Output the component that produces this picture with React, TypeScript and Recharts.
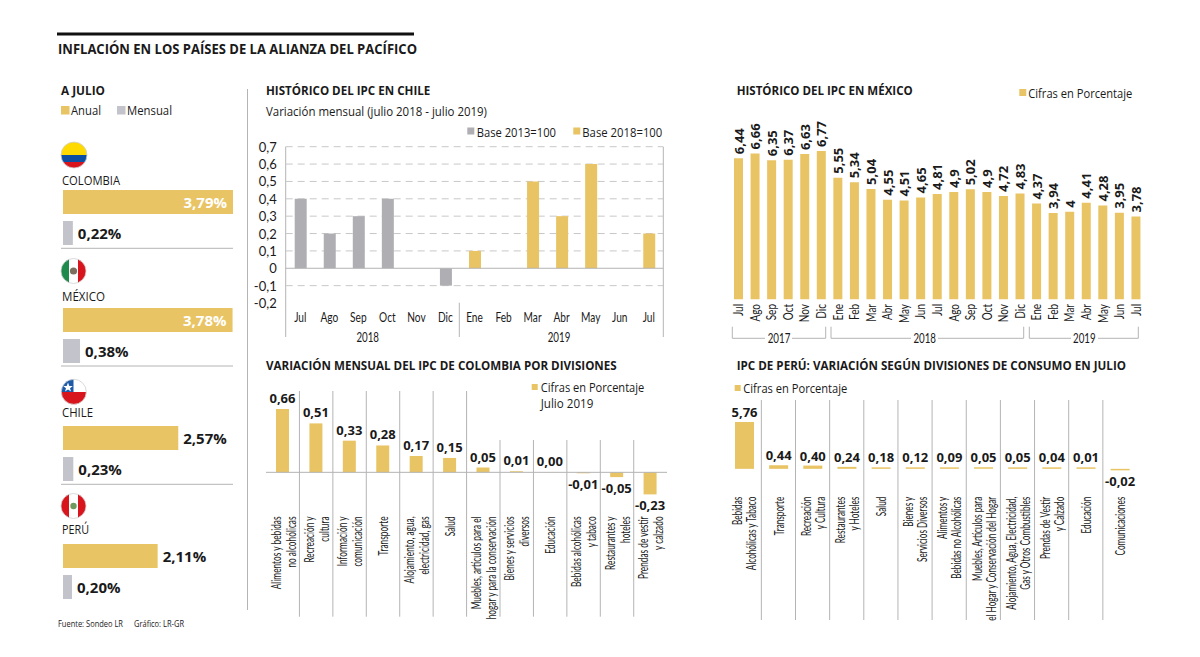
import React from "react";
import { BarChart, Bar, XAxis, YAxis, CartesianGrid, ReferenceLine, LabelList, Cell } from "recharts";

const GOLD = "#E9C464";
const LIGHT_GRAY = "#C3C4CB";
const DARK_GRAY = "#AFAEB3";
const LINE = "#B4B4B4";
const GRID = "#C8C8C8";
const INK = "#1a1a1a";
const SANS = "'Open Sans', sans-serif";
const NARROW = "Lato, sans-serif";

// ---- data ----
const countries = ["COLOMBIA", "MÉXICO", "CHILE", "PERÚ"];
const annualRates = [3.79, 3.78, 2.57, 2.11];
const monthlyRates = [0.22, 0.38, 0.23, 0.2];

const chileMonths = ["Jul", "Ago", "Sep", "Oct", "Nov", "Dic", "Ene", "Feb", "Mar", "Abr", "May", "Jun", "Jul"];
const chileBase2013 = [0.4, 0.2, 0.3, 0.4, null, -0.1, null, null, null, null, null, null, null];
const chileBase2018 = [null, null, null, null, null, null, 0.1, null, 0.5, 0.3, 0.6, null, 0.2];
const chileTicks = [-0.2, -0.1, 0, 0.1, 0.2, 0.3, 0.4, 0.5, 0.6, 0.7];

const mexicoMonths = ["Jul", "Ago", "Sep", "Oct", "Nov", "Dic", "Ene", "Feb", "Mar", "Abr", "May", "Jun", "Jul", "Ago", "Sep", "Oct", "Nov", "Dic", "Ene", "Feb", "Mar", "Abr", "May", "Jun", "Jul"];
const mexicoValues = [6.44, 6.66, 6.35, 6.37, 6.63, 6.77, 5.55, 5.34, 5.04, 4.55, 4.51, 4.65, 4.81, 4.9, 5.02, 4.9, 4.72, 4.83, 4.37, 3.94, 4, 4.41, 4.28, 3.95, 3.78];

const colombiaDivisions = [
  "Alimentos y bebidas\nno alcohólicas", "Recreación y\ncultura", "Información y\ncomunicación", "Transporte",
  "Alojamiento, agua,\nelectricidad, gas", "Salud", "Muebles, artículos para el\nhogar y para la conservación",
  "Bienes y servicios\ndiversos", "Educación", "Bebidas alcohólicas\ny tabaco", "Restaurantes y\nhoteles", "Prendas de vestir\ny calzado",
];
const colombiaValues = [0.66, 0.51, 0.33, 0.28, 0.17, 0.15, 0.05, 0.01, 0, -0.01, -0.05, -0.23];

const peruDivisions = [
  "Bebidas\nAlcohólicas y Tabaco", "Transporte", "Recreación\ny Cultura", "Restaurantes\ny Hoteles", "Salud",
  "Bienes y\nServicios Diversos", "Alimentos y\nBebidas no Alcohólicas", "Muebles, Artículos para\nel Hogar y Conservación del Hogar",
  "Alojamiento, Agua, Electricidad,\nGas y Otros Combustibles", "Prendas de Vestir\ny Calzado", "Educación", "Comunicaciones",
];
const peruValues = [5.76, 0.44, 0.4, 0.24, 0.18, 0.12, 0.09, 0.05, 0.05, 0.04, 0.01, -0.02];

const chileData = chileMonths.map((m, i) => ({ m, a: chileBase2013[i], b: chileBase2018[i] }));
const mexicoData = mexicoMonths.map((m, i) => ({ key: i, m, v: mexicoValues[i] }));
const colombiaData = colombiaDivisions.map((d, i) => ({ d, v: colombiaValues[i] }));
const peruData = peruDivisions.map((d, i) => ({ d, v: peruValues[i] }));

const comma = (v: number) => String(v).replace(".", ",");
const comma2 = (v: number) => v.toFixed(2).replace(".", ",");

// ---- helpers ----
function T({ x, y, w, s = 13, b = false, fill = INK, children }: any) {
  return (
    <text x={x} y={y} dominantBaseline="central" fontFamily={SANS} fontSize={s} fontWeight={b ? 700 : 400} fill={fill}
      textLength={w} lengthAdjust="spacingAndGlyphs">{children}</text>
  );
}
const Sq = ({ x, y, s = 7, fill = GOLD }: any) => <rect x={x} y={y} width={s} height={s} fill={fill} />;
const VL = ({ x, y1, y2 }: any) => <line x1={x} x2={x} y1={y1} y2={y2} stroke={LINE} strokeWidth={1} />;

function Flag({ cx, cy, r, id, children }: any) {
  return (
    <g>
      <clipPath id={id}><circle cx={cx} cy={cy} r={r} /></clipPath>
      <g clipPath={`url(#${id})`}>{children}</g>
      <circle cx={cx} cy={cy} r={r} fill="none" stroke="#d0d0d0" strokeWidth={0.8} />
    </g>
  );
}

const positionedChart = (left: number, top: number): React.CSSProperties => ({ position: "absolute", left, top });

// rotated multi-line category labels
const rotTick = (gap: number, offset: number, scale: number) => (props: any) => {
  const { x, y, payload } = props;
  const lines = String(payload.value).split("\n");
  return (
    <g>
      {lines.map((line: string, i: number) => {
        const dx = lines.length === 1 ? 0 : (i === 0 ? -gap : gap);
        return (
          <text key={i} transform={`translate(${x + dx},${y + offset}) rotate(-90) scale(${scale},1)`} textAnchor="end"
            dominantBaseline="central" fontFamily={NARROW} fontSize={13} fill={INK}>{line}</text>
        );
      })}
    </g>
  );
};

const barLabel = (format: (v: number) => string, above: number, below: number, size = 13) => (props: any) => {
  const { x, y, width, height, value } = props;
  const top = Math.min(y, y + height);
  const bottom = Math.max(y, y + height);
  const ly = value < 0 ? bottom + below : top - above;
  return (
    <text x={x + width / 2} y={ly} textAnchor="middle" dominantBaseline="central" fontFamily={SANS} fontWeight={700} fontSize={size} fill={INK}>
      {format(value)}
    </text>
  );
};

const mexicoLabel = (props: any) => {
  const { x, y, width, value } = props;
  return (
    <text transform={`translate(${x + width / 2},${y - 4}) rotate(-90)`} textAnchor="start" dominantBaseline="central"
      fontFamily={SANS} fontWeight={700} fontSize={13} fill={INK}>{comma(value)}</text>
  );
};

const rateLabel = (props: any) => {
  const { x, y, width, height, value } = props;
  const inside = value > 3;
  return (
    <text x={inside ? x + width - 6 : x + width + 5} y={y + height / 2} textAnchor={inside ? "end" : "start"} dominantBaseline="central"
      fontFamily={SANS} fontWeight={700} fontSize={15} fill={inside ? "#fff" : INK}>{comma2(value) + "%"}</text>
  );
};

function RateChart({ index, top }: { index: number; top: number }) {
  const data = [{ k: "Anual", v: annualRates[index] }, { k: "Mensual", v: monthlyRates[index] }];
  return (
    <div style={positionedChart(63, top)}>
      <BarChart width={170} height={62} data={data} layout="vertical" margin={{ top: 0, right: 0, bottom: 0, left: 0 }} style={{ overflow: "visible" }}>
        <XAxis type="number" hide domain={[0, 3.79]} />
        <YAxis type="category" dataKey="k" hide />
        <Bar dataKey="v" barSize={24} isAnimationActive={false}>
          <Cell fill={GOLD} />
          <Cell fill={LIGHT_GRAY} />
          <LabelList dataKey="v" content={rateLabel} />
        </Bar>
      </BarChart>
    </div>
  );
}

const chileMonthTick = (props: any) => (
  <text transform={`translate(${props.x},${props.y + 5.6}) scale(0.78,1)`} textAnchor="middle" dominantBaseline="central"
    fontFamily={NARROW} fontSize={13} fill={INK}>{props.payload.value}</text>
);
const chileYTick = (props: any) => (
  <text x={props.x - 1} y={props.y} textAnchor="end" dominantBaseline="central" fontFamily={NARROW} fontSize={13} fill={INK}>
    {comma(props.payload.value)}
  </text>
);
const mexicoMonthTick = (props: any) => (
  <text transform={`translate(${props.x},${props.y - 3.3}) rotate(-90) scale(0.8,1)`} textAnchor="end" dominantBaseline="central"
    fontFamily={NARROW} fontSize={12.5} fill={INK}>{props.payload.value}</text>
);

const colombiaSeparators = [0, 1, 2, 3, 4, 5, 6, 7, 8, 9, 10];
const peruSeparators = [0, 1, 2, 3, 4, 5, 6, 7, 8, 9, 10];
const bracket = (x1: number, x2: number, g1: number, g2: number) => {
  const yTop = 326.7, yBot = 338.3;
  return (
    <path d={`M${x1} ${yTop}V${yBot}H${g1}M${g2} ${yBot}H${x2}V${yTop}`} fill="none" stroke={LINE} strokeWidth={1} />
  );
};

export default function App() {
  return (
    <div style={{ position: "absolute", left: 0, top: 0, width: 1200, height: 657, background: "#fff", overflow: "hidden" }}>
      <svg width={1200} height={657} style={{ position: "absolute", left: 0, top: 0 }}>
        {/* header */}
        <rect x={57} y={32.5} width={357} height={3} fill="#111" />
        <T x={58} y={48.7} w={359} s={14.5} b>INFLACIÓN EN LOS PAÍSES DE LA ALIANZA DEL PACÍFICO</T>

        {/* left panel */}
        <T x={61} y={90.5} w={44} s={12.5} b>A JULIO</T>
        <Sq x={61} y={106} s={8.5} />
        <T x={71} y={110} w={30}>Anual</T>
        <Sq x={117} y={106} s={8.5} fill={LIGHT_GRAY} />
        <T x={127} y={110} w={45}>Mensual</T>
        <line x1={247.5} x2={247.5} y1={89} y2={610} stroke={LINE} strokeWidth={1} />

        <Flag cx={74} cy={155} r={13} id="f1">
          <rect x={60} y={141} width={28} height={14} fill="#FFDA00" />
          <rect x={60} y={155} width={28} height={7} fill="#0B4EA2" />
          <rect x={60} y={162} width={28} height={8} fill="#D8141C" />
        </Flag>
        <Flag cx={73.5} cy={271} r={12.5} id="f2">
          <rect x={60} y={258} width={9} height={26} fill="#1E8A4C" />
          <rect x={69} y={258} width={9} height={26} fill="#fff" />
          <rect x={78} y={258} width={9} height={26} fill="#D8141C" />
          <circle cx={73.5} cy={271} r={3.6} fill="#7d6f5e" />
        </Flag>
        <Flag cx={73.8} cy={391.8} r={12.5} id="f3">
          <rect x={60} y={378} width={28} height={14} fill="#fff" />
          <rect x={60} y={378} width={13.5} height={14} fill="#1C5AA8" />
          <rect x={60} y={392} width={28} height={14} fill="#D8141C" />
          <polygon points="68,382.5 69.3,386 72.8,386 70,388.2 71,391.5 68,389.5 65,391.5 66,388.2 63.2,386 66.7,386" fill="#fff" />
        </Flag>
        <Flag cx={73.5} cy={506} r={12.5} id="f4">
          <rect x={60} y={493} width={9} height={26} fill="#D8141C" />
          <rect x={69} y={493} width={9} height={26} fill="#fff" />
          <rect x={78} y={493} width={9} height={26} fill="#D8141C" />
          <circle cx={73.5} cy={506} r={3.2} fill="#6f9a5c" />
        </Flag>

        <T x={62} y={179.7} w={58} s={13}>{countries[0]}</T>
        <T x={62} y={295.5} w={43} s={13}>{countries[1]}</T>
        <T x={62} y={411.7} w={31} s={13}>{countries[2]}</T>
        <T x={62} y={528.5} w={27} s={13}>{countries[3]}</T>
        {[248.3, 366, 484.3].map((y) => <line key={y} x1={61} x2={233} y1={y} y2={y} stroke={LINE} strokeWidth={1} />)}
        <T x={58} y={623} w={65} s={9}>Fuente: Sondeo LR</T>
        <T x={134} y={623} w={50} s={9}>Gráfico: LR-GR</T>

        {/* Chile */}
        <T x={266} y={90.7} w={164.3} s={12.5} b>HISTÓRICO DEL IPC EN CHILE</T>
        <T x={266} y={111.2} w={221}>Variación mensual (julio 2018 - julio  2019)</T>
        <Sq x={467.3} y={127.5} fill={DARK_GRAY} />
        <T x={476.7} y={132.3} w={79.3}>Base 2013=100</T>
        <Sq x={573.3} y={127.5} />
        <T x={582.3} y={132.3} w={80}>Base 2018=100</T>
        <VL x={285.7} y1={146.7} y2={337} />
        <VL x={663.3} y1={146.7} y2={337} />
        <VL x={459.3} y1={302.7} y2={337} />
        <text transform="translate(367.7,336.7) scale(0.78,1)" textAnchor="middle" dominantBaseline="central" fontFamily={NARROW} fontSize={12.5} fill={INK}>2018</text>
        <text transform="translate(559,336.7) scale(0.78,1)" textAnchor="middle" dominantBaseline="central" fontFamily={NARROW} fontSize={12.5} fill={INK}>2019</text>

        {/* Mexico */}
        <T x={736.7} y={90.7} w={176} s={12.5} b>HISTÓRICO DEL IPC EN MÉXICO</T>
        <Sq x={1019.3} y={89} />
        <T x={1028.3} y={92.7} w={104}>Cifras en Porcentaje</T>
        {bracket(732.3, 825.7, 765, 792)}
        {bracket(831, 1023.7, 911, 938)}
        {bracket(1029.3, 1138.3, 1071, 1098)}
        <text transform="translate(779,338) scale(0.78,1)" textAnchor="middle" dominantBaseline="central" fontFamily={NARROW} fontSize={12.5} fill={INK}>2017</text>
        <text transform="translate(924.7,338) scale(0.78,1)" textAnchor="middle" dominantBaseline="central" fontFamily={NARROW} fontSize={12.5} fill={INK}>2018</text>
        <text transform="translate(1084.3,338) scale(0.78,1)" textAnchor="middle" dominantBaseline="central" fontFamily={NARROW} fontSize={12.5} fill={INK}>2019</text>

        {/* Colombia */}
        <T x={266} y={365.7} w={350.7} s={12.5} b>VARIACIÓN MENSUAL DEL IPC DE COLOMBIA POR DIVISIONES</T>
        <Sq x={531.7} y={384} s={6} />
        <T x={540.7} y={386.7} w={103.6}>Cifras en Porcentaje</T>
        <T x={540.7} y={402.7} w={52.6}>Julio 2019</T>
        {colombiaSeparators.map((i) => (
          <VL key={i} x={266 + 33.43 * (i + 1)} y1={i < 6 ? 391 : 440} y2={616.7} />
        ))}

        {/* Peru */}
        <T x={736.7} y={365.7} w={389.3} s={12.5} b>IPC DE PERÚ: VARIACIÓN SEGÚN DIVISIONES DE CONSUMO EN JULIO</T>
        <Sq x={734.7} y={385} s={6} />
        <T x={743.3} y={388.3} w={104}>Cifras en Porcentaje</T>
        {peruSeparators.map((i) => (
          <VL key={i} x={727.2 + 34.15 * (i + 1)} y1={400} y2={620} />
        ))}
      </svg>

      <RateChart index={0} top={186.1} />
      <RateChart index={1} top={303.8} />
      <RateChart index={2} top={421.85} />
      <RateChart index={3} top={539.7} />

      <div style={positionedChart(245, 130)}>
        <BarChart width={418.3} height={213} data={chileData} margin={{ top: 16.7, right: 0, bottom: 0, left: 0 }} barCategoryGap={0}>
          <CartesianGrid vertical={false} stroke={GRID} strokeDasharray="7 5" horizontalValues={[-0.1, 0.1, 0.2, 0.3, 0.4, 0.5, 0.6, 0.7]} />
          <XAxis dataKey="m" height={40} interval={0} axisLine={false} tickLine={false} tick={chileMonthTick} allowDuplicatedCategory />
          <YAxis width={40.7} domain={[-0.2, 0.7]} ticks={chileTicks} axisLine={false} tickLine={false} tick={chileYTick} interval={0} />
          <ReferenceLine y={0} stroke={LINE} strokeWidth={1} />
          <Bar dataKey="a" stackId="s" fill={DARK_GRAY} barSize={12} isAnimationActive={false} />
          <Bar dataKey="b" stackId="s" fill={GOLD} barSize={12} isAnimationActive={false} />
        </BarChart>
      </div>

      <div style={positionedChart(730, 100)}>
        <BarChart width={414} height={240} data={mexicoData} margin={{ top: 51, right: 0, bottom: 0, left: 0 }} style={{ overflow: "visible" }}>
          <XAxis dataKey="key" type="category" height={40.7} interval={0} axisLine={false} tickLine={false}
            tick={(p: any) => mexicoMonthTick({ ...p, payload: { value: mexicoMonths[p.index] } })} />
          <YAxis hide domain={[0, 6.77]} />
          <Bar dataKey="v" fill={GOLD} barSize={9} isAnimationActive={false}>
            <LabelList dataKey="v" content={mexicoLabel} />
          </Bar>
        </BarChart>
      </div>

      <div style={positionedChart(266, 380)}>
        <BarChart width={401} height={250} data={colombiaData} margin={{ top: 29, right: 0, bottom: 0, left: 0 }}>
          <XAxis dataKey="d" height={135.6} interval={0} axisLine={false} tickLine={false} tick={rotTick(7.5, 14, 0.64)} />
          <YAxis hide domain={[-0.23, 0.66]} />
          <ReferenceLine y={0} stroke={LINE} strokeWidth={1} />
          <Bar dataKey="v" fill={GOLD} barSize={13} minPointSize={0.1} isAnimationActive={false}>
            <LabelList dataKey="v" content={barLabel(comma2, 11, 10.5)} />
          </Bar>
        </BarChart>
      </div>

      <div style={positionedChart(727.2, 400)}>
        <BarChart width={409.8} height={230} data={peruData} margin={{ top: 22, right: 0, bottom: 0, left: 0 }}>
          <XAxis dataKey="d" height={161} interval={0} axisLine={false} tickLine={false} tick={rotTick(7, 19.7, 0.63)} />
          <YAxis hide domain={[-0.02, 5.76]} />
          <Bar dataKey="v" fill={GOLD} barSize={19} minPointSize={1.5} isAnimationActive={false}>
            <LabelList dataKey="v" content={barLabel(comma2, 10, 11)} />
          </Bar>
        </BarChart>
      </div>
    </div>
  );
}
